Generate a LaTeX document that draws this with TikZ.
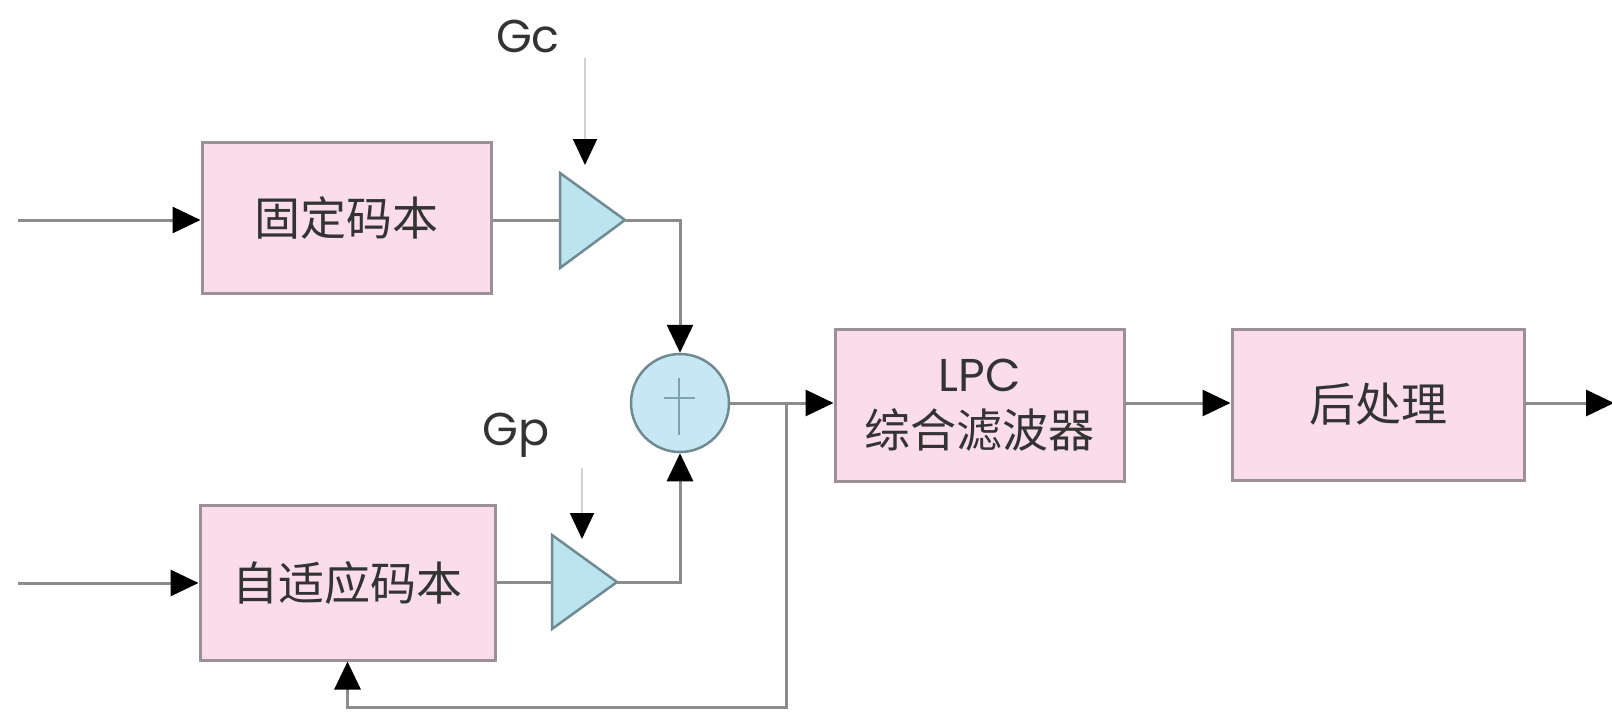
\documentclass[tikz,border=0pt]{standalone}
\usepackage{fontspec}
\setmainfont{Poppins}
\newfontfamily\cjk{Noto Sans CJK SC}
\usetikzlibrary{arrows.meta}
\definecolor{boxfill}{HTML}{FADCEB}
\definecolor{boxline}{HTML}{9C8F95}
\definecolor{trifill}{HTML}{BCE4EE}
\definecolor{triline}{HTML}{6F8A90}
\definecolor{sumfill}{HTML}{C6E8F4}
\definecolor{plus}{HTML}{7FA3AE}
\definecolor{wire}{HTML}{8C8C8C}
\definecolor{txt}{HTML}{333333}
\tikzset{
  blockbox/.style={draw=boxline, line width=3pt, fill=boxfill, minimum width=289pt, minimum height=150pt, inner sep=0pt, text=txt, font=\cjk\fontsize{46}{56}\selectfont, align=center},
  gaintri/.style={draw=triline, line width=2.5pt, fill=trifill, line join=miter},
  wireline/.style={draw=wire, line width=3pt},
  arr/.style={wireline, -{Triangle[length=28pt,width=26pt,color=black]}},
  lbl/.style={text=txt, font=\fontsize{46}{50}\selectfont, inner sep=0pt, anchor=base}
}
\begin{document}
\begin{tikzpicture}[x=1pt,y=-1pt]
\useasboundingbox (0,0) rectangle (1612,715);
% blocks
\node[blockbox, minimum width=289pt, minimum height=151pt] (fixed) at (346.5,218) {固定码本};
\node[blockbox, minimum width=295pt, minimum height=155pt] (adapt) at (347.5,582.5) {自适应码本};
\node[blockbox, minimum width=289pt, minimum height=152pt] (lpc) at (979.5,405) {{\rmfamily LPC}\\综合滤波器};
\node[blockbox, minimum width=292pt, minimum height=151pt] (post) at (1378,404.5) {后处理};
% sum junction
\node[circle, draw=triline, line width=2.5pt, fill=sumfill, minimum size=98pt, inner sep=0pt] (sum) at (680,403) {};
\draw[draw=plus, line width=2.2pt] (sum.center) ++(-1,-25) -- ++(0,57);
\draw[draw=plus, line width=2.2pt] (sum.center) ++(-16,-5) -- ++(31,0);
% gain triangles
\coordinate (gcin) at (560,220);
\coordinate (gcout) at (625,220);
\draw[gaintri] (560,173) -- (gcout) -- (560,268) -- cycle;
\coordinate (gpin) at (552,582);
\coordinate (gpout) at (617,582);
\draw[gaintri] (552,535) -- (gpout) -- (552,629) -- cycle;
% inputs
\coordinate (in1) at (18,220);
\coordinate (in2) at (18,583);
\draw[arr] (in1) -- (in1 -| fixed.west);
\draw[arr] (in2) -- (in2 -| adapt.west);
% block to gain
\draw[wireline] (fixed.east |- gcin) -- (gcin);
\draw[wireline] (adapt.east |- gpin) -- (gpin);
% gain labels
\node[lbl] (gc) at (528,52) {Gc};
\node[lbl] (gp) at (516,445) {Gp};
\coordinate (gcs) at (585,58);
\coordinate (gce) at (585,165);
\coordinate (gps) at (582,468);
\coordinate (gpe) at (582,539);
\draw[wire!40, line width=2pt, -{Triangle[length=26pt,width=24pt,color=black]}] (gcs) -- (gce);
\draw[wire!40, line width=2pt, -{Triangle[length=26pt,width=24pt,color=black]}] (gps) -- (gpe);
% gains to sum
\draw[arr] (gcout) -| (sum.north);
\draw[arr] (gpout) -| (sum.south);
% sum to LPC
\coordinate (junc) at (786,403);
\draw[arr] (sum.east) -- (sum.east -| lpc.west);
\draw[arr] (lpc.east |- sum.east) -- (sum.east -| post.west);
\coordinate (out) at (1614,403);
\draw[arr] (post.east |- out) -- (out);
% feedback
\coordinate (fb) at (786,707);
\draw[arr] (junc) -- (fb) -| (adapt.south);
\end{tikzpicture}
\end{document}
